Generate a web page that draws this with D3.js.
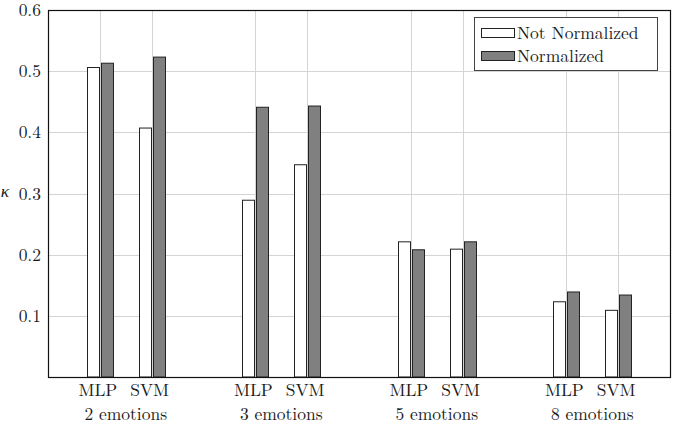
<!DOCTYPE html>
<html lang="en">
<head>
<meta charset="utf-8">
<script src="https://cdn.jsdelivr.net/npm/d3@7"></script>
<style>
    body { margin: 0; background: #fff; }
</style>
</head>
<body>
<div id="chart"></div>
<script>
    // data
    const groups = ['2 emotions', '3 emotions', '5 emotions', '8 emotions'];
    const models = ['MLP', 'SVM'];
    const notNormalized = [0.506, 0.407, 0.289, 0.347, 0.221, 0.209, 0.123, 0.109];
    const normalized = [0.513, 0.523, 0.441, 0.443, 0.208, 0.221, 0.139, 0.134];
    const yTicks = [0.1, 0.2, 0.3, 0.4, 0.5, 0.6];
    const seriesNames = ['Not Normalized', 'Normalized'];
    const seriesColors = ['#ffffff', '#808080'];

    (() => {
        const width = 675, height = 430;
        const pLeft = 48, pRight = 670, pTop = 10, pBottom = 377;
        const barW = 12, gap = 2;
        const font = '"Latin Modern Roman", "Liberation Serif", serif';
        const fs = '17.5px';

        // one slot per bar pair; an empty slot between groups
        const slots = [];
        groups.forEach((g, gi) => models.forEach((m, mi) => slots.push({group: g, model: m, pos: gi * 3 + mi})));
        slots.forEach((s, i) => { s.values = [notNormalized[i], normalized[i]]; });

        const x = d3.scaleLinear().domain([-1, 11]).range([pLeft, pRight]);
        const y = d3.scaleLinear().domain([0, 0.6]).range([pBottom, pTop]);

        const svg = d3.select('#chart').append('svg')
            .attr('width', width).attr('height', height);

        const label = sel => sel.style('font-family', font).style('font-size', fs).attr('fill', '#1a1a1a');

        // grid
        svg.append('g')
            .selectAll('line')
            .data(yTicks.slice(0, -1))
            .enter().append('line')
            .attr('x1', pLeft).attr('x2', pRight)
            .attr('y1', d => Math.round(y(d)) + 0.5).attr('y2', d => Math.round(y(d)) + 0.5)
            .attr('stroke', '#d4d4d4');
        svg.append('g')
            .selectAll('line')
            .data(slots)
            .enter().append('line')
            .attr('x1', d => Math.round(x(d.pos)) + 0.5).attr('x2', d => Math.round(x(d.pos)) + 0.5)
            .attr('y1', pTop).attr('y2', pBottom)
            .attr('stroke', '#d4d4d4');

        // bars
        const pair = svg.append('g')
            .selectAll('g')
            .data(slots)
            .enter().append('g');
        pair.selectAll('rect')
            .data(d => d.values.map((v, k) => ({v, k, pos: d.pos})))
            .enter().append('rect')
            .attr('x', d => Math.round(x(d.pos)) + (d.k === 0 ? -(barW + gap / 2) : gap / 2) + 0.5)
            .attr('y', d => y(d.v))
            .attr('width', barW)
            .attr('height', d => pBottom - y(d.v))
            .attr('fill', d => seriesColors[d.k])
            .attr('stroke', '#222')
            .attr('stroke-width', 1);

        // y axis labels
        const yAxis = d3.axisLeft(y).tickValues(yTicks).tickSize(0).tickPadding(7)
            .tickFormat(d3.format('.1f'));
        const ya = svg.append('g').attr('transform', `translate(${pLeft},0)`).call(yAxis);
        ya.select('.domain').remove();
        ya.selectAll('text').call(label);

        // x axis labels
        const xa = svg.append('g');
        xa.selectAll('text.model')
            .data(slots)
            .enter().append('text')
            .attr('class', 'model')
            .attr('x', d => x(d.pos) - 2)
            .attr('y', 396)
            .attr('text-anchor', 'middle')
            .call(label)
            .text(d => d.model);
        xa.selectAll('text.group')
            .data(groups)
            .enter().append('text')
            .attr('class', 'group')
            .attr('x', (d, i) => x(i * 3 + 0.5))
            .attr('y', 420)
            .attr('text-anchor', 'middle')
            .call(label)
            .text(d => d);

        // frame
        svg.append('rect')
            .attr('x', pLeft + 0.5).attr('y', pTop + 0.5)
            .attr('width', pRight - pLeft).attr('height', pBottom - pTop)
            .attr('fill', 'none').attr('stroke', '#111').attr('stroke-width', 1.2);

        // y label
        svg.append('text')
            .attr('x', 5).attr('y', 197)
            .attr('text-anchor', 'middle')
            .call(label)
            .style('font-style', 'italic')
            .text('κ');

        // legend
        const lg = svg.append('g');
        lg.append('rect')
            .attr('x', 474.5).attr('y', 17.5).attr('width', 183).attr('height', 53)
            .attr('fill', '#fff').attr('stroke', '#444');
        const entry = lg.selectAll('g')
            .data(seriesNames)
            .enter().append('g')
            .attr('transform', (d, i) => `translate(0,${i * 23})`);
        entry.append('rect')
            .attr('x', 481.5).attr('y', 28.5).attr('width', 33).attr('height', 9)
            .attr('fill', (d, i) => seriesColors[i]).attr('stroke', '#222');
        entry.append('text')
            .attr('x', 517).attr('y', 38.5)
            .call(label)
            .text(d => d);
    })();
</script>
</body>
</html>
